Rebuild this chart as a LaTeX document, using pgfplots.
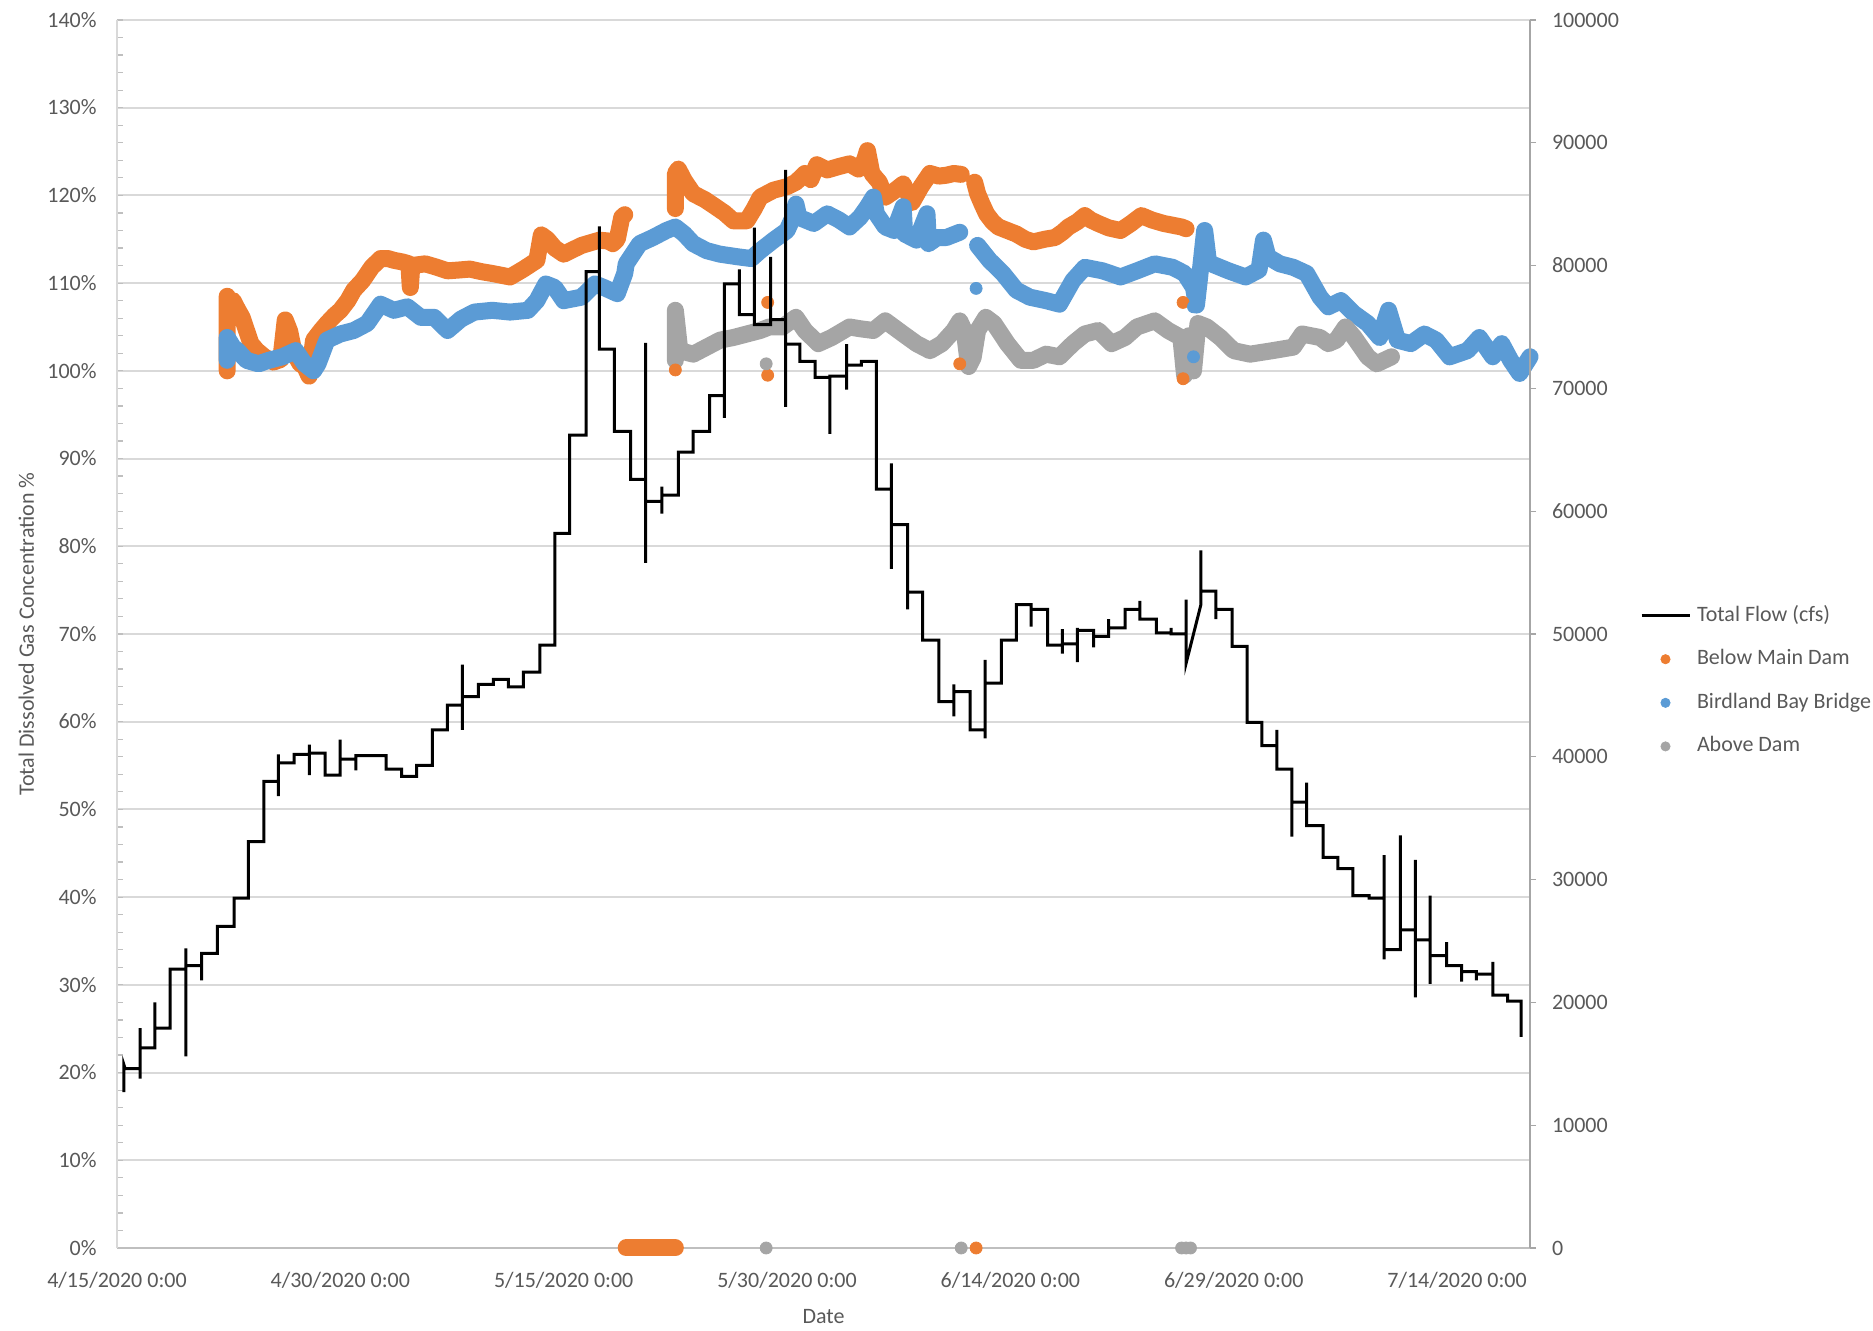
\documentclass[border=0pt]{standalone}
\usepackage{fontspec}
\setmainfont{Carlito}
\usepackage{pgfplots}
\pgfplotsset{compat=1.18}
\definecolor{tdgorange}{HTML}{ED7D31}
\definecolor{tdgblue}{HTML}{5B9BD5}
\definecolor{tdggray}{HTML}{A5A5A5}
\definecolor{textgray}{HTML}{595959}
\definecolor{gridgray}{HTML}{D9D9D9}
\definecolor{axisgray}{HTML}{BFBFBF}
\definecolor{axisgraydk}{HTML}{A6A6A6}
\pgfplotsset{
  tdgband/.style={no markers, line width=8.5pt, line cap=round, line join=round},
  tdgdots/.style={only marks, mark=*, mark size=3pt, mark options={draw=none}},
}
\newcommand{\lblfont}{\fontsize{11}{13}\selectfont}
\begin{document}
\begin{tikzpicture}
\useasboundingbox (-58.5pt,-41.5pt) rectangle (878pt,624pt);
\begin{axis}[
  at={(0pt,0pt)}, anchor=south west,
  scale only axis, width=706.5pt, height=614pt,
  xmin=0, xmax=94.9, ymin=0, ymax=140,
  clip=false,
  axis x line*=bottom, axis y line*=left,
  x axis line style={draw=axisgray, line width=1.2pt},
  y axis line style={draw=gridgray, line width=1pt},
  xtick={0,15,30,45,60,75,90},
  xticklabels={4/15/2020 0:00,4/30/2020 0:00,5/15/2020 0:00,5/30/2020 0:00,6/14/2020 0:00,6/29/2020 0:00,7/14/2020 0:00},
  x tick style={draw=none},
  ytick={0,10,20,30,40,50,60,70,80,90,100,110,120,130,140},
  yticklabels={0\%,10\%,20\%,30\%,40\%,50\%,60\%,70\%,80\%,90\%,100\%,110\%,120\%,130\%,140\%},
  minor y tick num=4,
  y tick style={draw=axisgray, line width=0.6pt},
  tick align=inside,
  major tick length=3pt, minor tick length=3pt,
  ymajorgrids, major grid style={draw=gridgray, line width=1pt},
  tick label style={font=\lblfont, text=textgray},
  xticklabel style={anchor=base, yshift=-20pt, inner sep=0pt},
  yticklabel style={anchor=base east, xshift=-10pt, yshift=-3.6pt, inner sep=0pt},
  xlabel={Date}, ylabel={Total Dissolved Gas Concentration \%},
  label style={font=\lblfont, text=textgray},
  xlabel style={at={(axis description cs:0.5,-0.0554)}, anchor=center},
  ylabel style={at={(axis description cs:-0.0642,0.5)}, anchor=center},
]
% Below Main Dam
\addplot[tdgorange, tdgband] coordinates {(7.4,100.0)(7.4,108.5)(7.55,107.0)(7.8,108.0)(8.1,107.0)(8.4,106.1)(8.7,104.6)(9.0,103.1)(9.4,102.3)(9.9,101.6)(10.5,101.0)(11.0,101.3)(11.3,105.8)(11.6,104.5)(11.9,102.0)(12.3,100.8)(12.6,100.5)(12.9,99.4)(13.2,103.5)(13.7,104.6)(14.1,105.4)(14.6,106.3)(15.0,106.9)(15.5,108.0)(15.9,109.2)(16.5,110.3)(17.1,111.8)(17.7,112.8)(18.2,112.8)(18.6,112.6)(19.2,112.4)(19.6,112.2)(19.7,109.5)(19.8,112.0)(20.7,112.2)(21.5,111.8)(22.2,111.4)(23.0,111.5)(23.7,111.6)(24.5,111.3)(25.2,111.1)(25.8,110.9)(26.4,110.7)(27.3,111.6)(28.2,112.6)(28.5,115.5)(28.9,115.0)(29.4,114.0)(30.0,113.3)(30.6,113.8)(31.2,114.3)(31.8,114.6)(32.4,114.9)(33.0,114.8)(33.3,114.5)(33.6,115.0)(33.9,117.5)(34.1,117.8)};
\addplot[tdgorange, tdgband] coordinates {(37.5,118.5)(37.5,122.5)(37.7,123.0)(38.1,121.7)(38.7,120.2)(39.5,119.5)(40.2,118.7)(40.8,118.0)(41.4,117.1)(42.3,117.1)(42.8,118.5)(43.2,119.8)(44.1,120.6)(45.0,121.0)(45.6,121.5)(46.2,122.5)(46.6,121.8)(47.0,123.5)(47.7,122.9)(48.5,123.3)(49.2,123.6)(49.8,123.0)(50.2,124.0)(50.4,125.1)(50.7,122.5)(51.2,121.5)(51.6,119.8)(52.2,120.5)(52.8,121.3)(53.4,119.2)(54.0,121.0)(54.6,122.5)(55.2,122.2)(55.7,122.3)(56.2,122.5)(56.7,122.4)};
\addplot[tdgorange, tdgband] coordinates {(57.6,121.5)(57.8,120.2)(58.1,119.0)(58.4,117.9)(58.8,117.0)(59.2,116.4)(59.8,116.0)(60.4,115.6)(61.0,115.0)(61.55,114.7)(62.3,115.0)(63.0,115.2)(63.5,115.8)(63.9,116.4)(64.5,117.0)(65.0,117.7)(65.4,117.2)(65.9,116.8)(66.6,116.3)(67.4,116.0)(68.1,116.8)(68.8,117.7)(69.5,117.2)(70.3,116.8)(70.9,116.6)(71.5,116.4)(71.8,116.2)};
\addplot[tdgorange, tdgband] coordinates {(34.2,0)(37.5,0)};
\addplot[tdgorange, tdgdots] coordinates {(37.5,100.1)(43.7,107.8)(43.7,99.5)(56.6,100.8)(71.6,107.8)(71.6,99.1)(57.7,0)};
% Birdland Bay Bridge
\addplot[tdgblue, tdgband] coordinates {(7.4,101.2)(7.4,103.8)(7.8,102.7)(8.1,102.3)(8.7,101.2)(9.5,100.8)(10.2,101.2)(11.1,101.6)(12.0,102.3)(12.6,100.8)(13.2,100.0)(13.5,100.8)(14.1,103.5)(15.0,104.2)(15.9,104.6)(16.8,105.4)(17.7,107.6)(18.6,106.9)(19.5,107.3)(20.4,106.1)(21.3,106.1)(22.2,104.6)(23.1,105.9)(24.0,106.7)(25.2,106.9)(26.4,106.7)(27.6,106.9)(28.2,108.0)(28.8,109.9)(29.4,109.5)(30.0,108.0)(31.2,108.4)(32.1,109.9)(32.7,109.5)(33.6,108.8)(34.1,111.1)(34.2,112.2)(35.1,114.5)(36.0,115.2)(36.9,116.0)(37.5,116.4)(38.1,115.6)(38.7,114.5)(39.6,113.7)(40.5,113.3)(41.7,113.0)(42.6,112.8)(43.2,113.7)(44.1,114.9)(45.0,116.0)(45.4,117.5)(45.6,119.0)(45.8,117.5)(46.8,116.8)(47.7,117.9)(48.5,117.2)(49.2,116.4)(49.9,117.5)(50.4,118.7)(50.8,119.8)(51.0,117.9)(51.6,116.4)(52.2,116.0)(52.8,118.7)(52.9,115.6)(53.7,114.9)(54.4,117.9)(54.5,114.5)(55.1,115.2)(55.7,115.2)(56.6,115.8)};
\addplot[tdgblue, tdgband] coordinates {(57.8,114.3)(58.6,112.6)(59.5,111.1)(60.4,109.2)(61.3,108.4)(62.4,108.0)(63.3,107.6)(64.2,110.3)(65.0,111.8)(66.2,111.4)(67.4,110.7)(68.5,111.4)(69.7,112.2)(70.9,111.8)(71.7,111.1)(72.3,109.5)(72.5,107.5)(72.7,110.5)(73.05,116.0)(73.3,112.5)(73.5,112.2)(74.65,111.4)(75.8,110.7)(76.7,111.5)(77.0,114.9)(77.3,113.0)(78.1,112.2)(79.0,111.8)(79.9,111.1)(80.8,108.4)(81.35,107.3)(82.2,108.0)(83.1,106.5)(84.0,105.4)(84.8,103.8)(85.4,106.9)(86.0,103.5)(86.9,103.1)(87.8,104.2)(88.6,103.5)(89.5,101.6)(90.7,102.3)(91.5,103.8)(92.4,101.6)(93.0,103.1)(93.6,101.2)(94.2,99.7)(94.9,101.6)};
\addplot[tdgblue, tdgdots] coordinates {(57.7,109.4)(72.3,107.3)(72.3,101.6)};
% Above Dam
\addplot[tdggray, tdgband] coordinates {(37.5,101.2)(37.5,106.9)(37.8,102.3)(38.7,101.9)(39.6,102.7)(40.5,103.5)(41.4,103.8)(42.3,104.2)(43.2,104.6)(43.8,105.0)(44.7,105.0)(45.6,106.1)(46.2,104.6)(47.1,103.1)(48.0,103.8)(49.2,105.0)(49.9,104.8)(50.8,104.6)(51.6,105.7)(52.8,104.2)(53.7,103.1)(54.6,102.3)(55.4,103.1)(56.2,104.6)(56.6,105.7)(56.9,104.6)(57.2,100.5)(57.5,101.5)(57.8,104.6)(58.35,106.1)(58.9,105.4)(59.8,103.1)(60.7,101.2)(61.55,101.2)(62.4,101.9)(63.3,101.6)(64.2,103.1)(65.0,104.2)(65.9,104.6)(66.8,103.1)(67.7,103.8)(68.5,105.0)(69.7,105.7)(70.6,104.6)(71.45,103.8)(71.7,99.5)(72.0,104.0)(72.3,100.0)(72.6,105.4)(73.2,105.0)(74.1,103.8)(75.0,102.3)(76.1,101.9)(77.6,102.3)(79.0,102.7)(79.6,104.2)(80.8,103.8)(81.35,103.1)(81.9,103.5)(82.5,105.0)(83.1,103.8)(84.0,101.6)(84.6,100.8)(85.1,101.2)(85.6,101.6)};
\addplot[tdggray, tdgdots] coordinates {(43.6,100.8)(43.6,0)(56.7,0)(71.5,0)(71.8,0)(72.1,0)};
\end{axis}
\begin{axis}[
  at={(0pt,0pt)}, anchor=south west,
  scale only axis, width=706.5pt, height=614pt,
  xmin=0, xmax=94.9, ymin=0, ymax=100000,
  axis x line=none, axis y line*=right,
  y axis line style={draw=axisgraydk, line width=1pt},
  ytick={0,10000,20000,30000,40000,50000,60000,70000,80000,90000,100000},
  yticklabels={0,10000,20000,30000,40000,50000,60000,70000,80000,90000,100000},
  tick label style={font=\lblfont, text=textgray},
  yticklabel style={anchor=base west, xshift=7.8pt, yshift=-3.6pt, inner sep=0pt},
  tick align=outside, major tick length=3pt,
  y tick style={draw=axisgraydk, line width=0.6pt},
  legend image code/.code={\draw[#1] (0pt,0pt) -- (24pt,0pt);},
  legend style={at={(1.07785,0.4617)}, anchor=west, draw=none, fill=none,
    inner sep=0pt, outer sep=0pt, row sep=5.3pt, column sep=0pt,
    font=\lblfont, text=textgray, cells={anchor=west},
    nodes={inner sep=3pt, text height=8pt, text depth=2.5pt}},
]
\addplot[black, line width=1.5pt] coordinates {(0.47,12700)(0.47,14900)(0.55,14600)(1.55,14600)(1.55,13800)(1.55,17900)(1.55,16300)(2.55,16300)(2.55,20000)(2.55,17900)(3.56,17900)(3.56,22700)(4.63,22700)(4.63,24400)(4.63,15600)(4.63,23000)(5.69,23000)(5.69,21800)(5.69,24000)(6.74,24000)(6.74,26200)(7.86,26200)(7.86,28500)(8.82,28500)(8.82,33100)(9.87,33100)(9.87,38000)(10.83,38000)(10.83,40200)(10.83,36800)(10.83,39500)(11.89,39500)(11.89,40200)(12.92,40200)(12.92,41000)(12.92,38500)(12.92,40300)(13.97,40300)(13.97,38500)(14.98,38500)(14.98,41400)(14.98,39800)(16.05,39800)(16.05,38900)(16.05,40100)(18.07,40100)(18.07,39000)(19.12,39000)(19.12,38400)(20.13,38400)(20.13,39300)(21.18,39300)(21.18,42200)(22.19,42200)(22.19,44200)(23.2,44200)(23.2,47500)(23.2,42200)(23.2,44900)(24.27,44900)(24.27,45900)(25.27,45900)(25.27,46300)(26.28,46300)(26.28,45700)(27.29,45700)(27.29,46900)(28.4,46900)(28.4,49100)(29.4,49100)(29.4,58200)(30.4,58200)(30.4,66200)(31.5,66200)(31.5,79500)(32.4,79500)(32.4,83200)(32.4,73200)(33.4,73200)(33.4,66500)(34.5,66500)(34.5,62600)(35.5,62600)(35.5,73700)(35.5,55800)(35.5,60800)(36.6,60800)(36.6,62000)(36.6,59800)(36.6,61300)(37.7,61300)(37.7,64800)(38.7,64800)(38.7,66500)(39.8,66500)(39.8,69400)(40.8,69400)(40.8,67600)(40.8,78500)(41.8,78500)(41.8,79700)(41.8,76000)(42.8,76000)(42.8,83100)(42.8,75200)(43.9,75200)(43.9,80700)(43.9,75600)(44.9,75600)(44.9,87800)(44.9,68500)(44.9,73600)(45.87,73600)(45.87,72200)(46.88,72200)(46.88,70900)(47.88,70900)(47.88,66300)(47.88,71000)(49.0,71000)(49.0,73600)(49.0,69900)(49.0,71900)(50.0,71900)(50.0,72200)(51.0,72200)(51.0,61800)(52.0,61800)(52.0,63900)(52.0,55300)(52.0,58900)(53.1,58900)(53.1,52000)(53.1,53400)(54.1,53400)(54.1,49500)(55.2,49500)(55.2,44500)(56.2,44500)(56.2,45900)(56.2,43300)(56.2,45300)(57.3,45300)(57.3,42200)(58.3,42200)(58.3,41500)(58.3,47900)(58.3,46000)(59.4,46000)(59.4,49500)(60.4,49500)(60.4,52400)(61.4,52400)(61.4,50600)(61.4,52000)(62.5,52000)(62.5,49100)(63.5,49100)(63.5,50400)(63.5,48400)(63.5,49200)(64.5,49200)(64.5,50500)(64.5,47700)(64.5,50300)(65.6,50300)(65.6,48900)(65.6,49800)(66.6,49800)(66.6,51200)(66.6,50500)(67.7,50500)(67.7,52000)(68.7,52000)(68.7,52700)(68.7,51200)(69.8,51200)(69.8,50100)(70.8,50100)(70.8,50500)(70.8,50000)(71.8,50000)(71.8,52800)(71.8,47600)(72.8,52400)(72.8,56800)(72.8,53500)(73.8,53500)(73.8,51200)(73.8,52000)(74.9,52000)(74.9,49000)(75.9,49000)(75.9,42800)(76.9,42800)(76.9,40900)(77.9,40900)(77.9,42200)(77.9,39000)(78.9,39000)(78.9,33500)(78.9,36300)(79.9,36300)(79.9,37900)(79.9,34400)(81.0,34400)(81.0,31800)(82.0,31800)(82.0,30900)(83.0,30900)(83.0,28700)(84.1,28700)(84.1,28500)(85.1,28500)(85.1,32000)(85.1,23500)(85.1,24300)(86.2,24300)(86.2,33600)(86.2,25900)(87.2,25900)(87.2,31600)(87.2,20400)(87.2,25100)(88.2,25100)(88.2,28700)(88.2,21500)(88.2,23800)(89.3,23800)(89.3,24900)(89.3,23000)(90.3,23000)(90.3,21700)(90.3,22500)(91.3,22500)(91.3,21800)(91.3,22300)(92.4,22300)(92.4,23300)(92.4,20600)(93.4,20600)(93.4,20100)(94.3,20100)(94.3,17200)};
\addlegendentry{Total Flow (cfs)}
\addlegendimage{legend image code/.code={\fill[tdgorange] (12pt,0pt) circle (2.3pt); \path (0pt,0pt) (24pt,0pt);}}
\addlegendentry{Below Main Dam}
\addlegendimage{legend image code/.code={\fill[tdgblue] (12pt,0pt) circle (2.3pt); \path (0pt,0pt) (24pt,0pt);}}
\addlegendentry{Birdland Bay Bridge}
\addlegendimage{legend image code/.code={\fill[tdggray] (12pt,0pt) circle (2.3pt); \path (0pt,0pt) (24pt,0pt);}}
\addlegendentry{Above Dam}
\end{axis}
\end{tikzpicture}
\end{document}
